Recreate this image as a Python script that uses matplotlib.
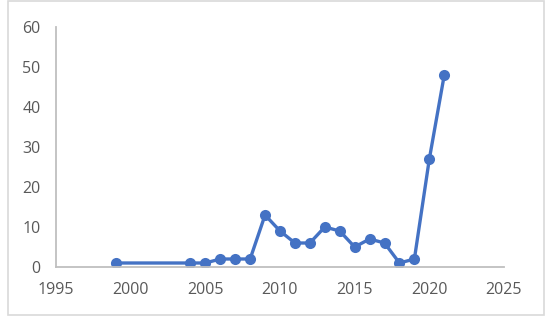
import matplotlib
matplotlib.use('Agg')
import matplotlib.pyplot as plt
from matplotlib.patches import Rectangle

years = [1999, 2004, 2005, 2006, 2007, 2008, 2009, 2010, 2011, 2012,
         2013, 2014, 2015, 2016, 2017, 2018, 2019, 2020, 2021]
counts = [1, 1, 1, 2, 2, 2, 13, 9, 6, 6, 10, 9, 5, 7, 6, 1, 2, 27, 48]
xticks = [1995, 2000, 2005, 2010, 2015, 2020, 2025]
yticks = [0, 10, 20, 30, 40, 50, 60]

W, H = 550, 323
fig = plt.figure(figsize=(W / 100, H / 100), dpi=100)
fig.patch.set_facecolor('white')

# chart area border
fig.add_artist(Rectangle((8 / W, 1 - 315 / H), (544 - 8) / W, (315 - 1) / H,
                         transform=fig.transFigure, fill=False,
                         edgecolor='#d9d9d9', linewidth=1.2))

ax = fig.add_axes([56 / W, (H - 267) / H, (504 - 56) / W, (267 - 27) / H])
ax.plot(years, counts, color='#4472c4', lw=2.4, marker='o', ms=8,
        markeredgewidth=0, solid_joinstyle='round')

ax.set_xlim(1995, 2025)
ax.set_ylim(0, 60)
ax.set_xticks(xticks)
ax.set_yticks(yticks)
for s in ['top', 'right']:
    ax.spines[s].set_visible(False)
for s in ['left', 'bottom']:
    ax.spines[s].set_color('#bfbfbf')
    ax.spines[s].set_linewidth(1.3)
ax.tick_params(length=0, labelsize=11.5, colors='#595959')
ax.tick_params(axis='x', pad=11)
ax.tick_params(axis='y', pad=11)
for lab in ax.get_xticklabels() + ax.get_yticklabels():
    lab.set_family(['Open Sans', 'DejaVu Sans'])
ax.patch.set_alpha(0)

fig.savefig('out.png', dpi=100)
